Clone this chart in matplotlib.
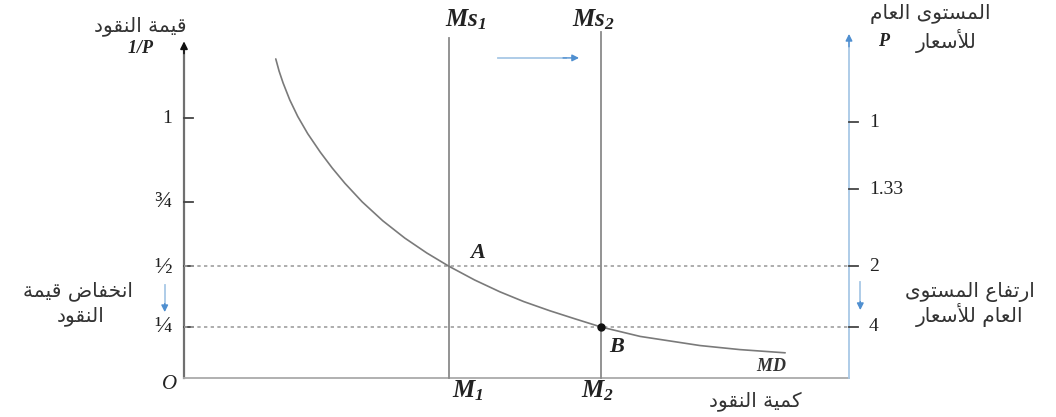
import matplotlib
matplotlib.use("Agg")
import matplotlib.pyplot as plt

# ---------------- data ----------------
left_tick_labels = ['1', '¾', '½', '¼']
left_tick_levels = [76.9, 52.1, 33.1, 15.1]
right_tick_labels = ['1', '1.33', '2', '4']
right_tick_levels = [75.7, 55.9, 33.1, 15.1]

md_x = [13.8, 14.3, 14.9, 15.9, 17.1, 18.6, 20.5, 22.3, 24.2, 26.8, 29.9, 33.2,
        36.5, 39.8, 43.7, 47.5, 51.1, 55.0, 58.8, 62.7, 68.6, 77.6, 83.6, 90.4]
md_y = [94.4, 90.8, 87.3, 82.3, 77.4, 72.3, 66.8, 62.1, 57.6, 52.1, 46.5, 41.4,
        37.0, 33.1, 29.0, 25.5, 22.6, 19.9, 17.5, 15.1, 12.3, 9.6, 8.4, 7.45]

m1 = 39.8
m2 = 62.7
level_a = 33.1
level_b = 15.1

txt_left_title = 'قيمة النقود'
txt_right_title1 = 'المستوى العام'
txt_right_title2 = 'للأسعار'
txt_left_note1 = 'انخفاض قيمة'
txt_left_note2 = 'النقود'
txt_right_note1 = 'ارتفاع المستوى'
txt_right_note2 = 'العام للأسعار'
txt_xlabel = 'كمية النقود'

# ---------------- minimal Arabic shaping ----------------
FORMS = {
    'ا': ('\uFE8D', '\uFE8E', None, None),
    'أ': ('\uFE83', '\uFE84', None, None),
    'ت': ('\uFE95', '\uFE96', '\uFE97', '\uFE98'),
    'ة': ('\uFE93', '\uFE94', None, None),
    'خ': ('\uFEA5', '\uFEA6', '\uFEA7', '\uFEA8'),
    'د': ('\uFEA9', '\uFEAA', None, None),
    'ر': ('\uFEAD', '\uFEAE', None, None),
    'س': ('\uFEB1', '\uFEB2', '\uFEB3', '\uFEB4'),
    'ض': ('\uFEBD', '\uFEBE', '\uFEBF', '\uFEC0'),
    'ع': ('\uFEC9', '\uFECA', '\uFECB', '\uFECC'),
    'ف': ('\uFED1', '\uFED2', '\uFED3', '\uFED4'),
    'ق': ('\uFED5', '\uFED6', '\uFED7', '\uFED8'),
    'ك': ('\uFED9', '\uFEDA', '\uFEDB', '\uFEDC'),
    'ل': ('\uFEDD', '\uFEDE', '\uFEDF', '\uFEE0'),
    'م': ('\uFEE1', '\uFEE2', '\uFEE3', '\uFEE4'),
    'ن': ('\uFEE5', '\uFEE6', '\uFEE7', '\uFEE8'),
    'و': ('\uFEED', '\uFEEE', None, None),
    'ى': ('\uFEEF', '\uFEF0', '\uFBE8', '\uFBE9'),
    'ي': ('\uFEF1', '\uFEF2', '\uFEF3', '\uFEF4'),
}
LAM_ALEF = {'ا': ('\uFEFB', '\uFEFC'), 'أ': ('\uFEF7', '\uFEF8')}


def shape(s):
    toks = []
    i = 0
    while i < len(s):
        c = s[i]
        if c == 'ل' and i + 1 < len(s) and s[i + 1] in LAM_ALEF:
            iso, fin = LAM_ALEF[s[i + 1]]
            toks.append((iso, fin, None, None))
            i += 2
        elif c in FORMS:
            toks.append(FORMS[c])
            i += 1
        else:
            toks.append(c)
            i += 1
    out = []
    for k, t in enumerate(toks):
        if isinstance(t, str):
            out.append(t)
            continue
        prev = toks[k - 1] if k > 0 else None
        nxt = toks[k + 1] if k + 1 < len(toks) else None
        jp = isinstance(prev, tuple) and prev[2] is not None
        jn = t[2] is not None and isinstance(nxt, tuple)
        if jp and jn:
            out.append(t[3])
        elif jp:
            out.append(t[1])
        elif jn:
            out.append(t[2])
        else:
            out.append(t[0])
    return ''.join(reversed(out))


# ---------------- style ----------------
plt.rcParams['mathtext.fontset'] = 'custom'
plt.rcParams['mathtext.it'] = 'Liberation Serif:italic:bold'
plt.rcParams['mathtext.rm'] = 'Liberation Serif:italic:bold'
plt.rcParams['mathtext.bf'] = 'Liberation Serif:bold'
plt.rcParams['mathtext.default'] = 'it'

AR = dict(family='DejaVu Sans', fontsize=14.5, color='#333333')
SERIF = dict(family='Liberation Serif', color='#222222')
GRAY = '#8a8a8a'
BLUE_LINE = '#a8c8e6'
BLUE_HEAD = '#4f8fd0'

fig = plt.figure(figsize=(10.56, 4.17), dpi=100)
ax = fig.add_axes([184 / 1056, 39 / 417, 665 / 1056, 338 / 417])
ax.set_xlim(0, 100)
ax.set_ylim(0, 100)
ax.axis('off')

# axes lines
ax.plot([0, 0], [0, 98], color='#707070', lw=1.6, clip_on=False)
ax.annotate('', xy=(0, 99.6), xytext=(0, 96), annotation_clip=False,
            arrowprops=dict(arrowstyle='-|>', color='#111111', lw=1.2,
                            mutation_scale=11, shrinkA=0, shrinkB=0))
ax.plot([0, 100], [0, 0], color='#aaaaaa', lw=1.3, clip_on=False)
ax.plot([100, 100], [0, 100], color=BLUE_LINE, lw=1.3, clip_on=False)
ax.annotate('', xy=(100, 101.8), xytext=(100, 98), annotation_clip=False,
            arrowprops=dict(arrowstyle='-|>', color=BLUE_HEAD, lw=1.0,
                            mutation_scale=10, shrinkA=0, shrinkB=0))

# ticks
for lab, lev in zip(left_tick_labels, left_tick_levels):
    ax.plot([0, 1.3], [lev, lev], color='#444444', lw=1.3, clip_on=False)
    fs = 14 if lab == '1' else 17
    ax.text(-1.8, lev, lab, ha='right', va='center', fontsize=fs, **SERIF)
for lab, lev in zip(right_tick_labels, right_tick_levels):
    ax.plot([100, 101.3], [lev, lev], color='#444444', lw=1.3, clip_on=False)
    ax.text(103.0, lev, lab, ha='left', va='center', fontsize=14, **SERIF)

# dotted guides
for lev in (level_a, level_b):
    ax.plot([0, 100], [lev, lev], color='#a0a0a0', lw=1.2,
            linestyle=(0, (2, 2)), clip_on=False)

# money supply lines
ax.plot([m1, m1], [0, 100.6], color=GRAY, lw=1.3, clip_on=False)
ax.plot([m2, m2], [0, 102.4], color=GRAY, lw=1.3, clip_on=False)

# money demand curve
ax.plot(md_x, md_y, color='#7a7a7a', lw=1.2, clip_on=False,
        solid_joinstyle='round', solid_capstyle='round')
ax.plot([m2], [level_b], 'o', color='#111111', ms=5, clip_on=False)

# shift arrow
ax.plot([47.2, 57.5], [94.7, 94.7], color=BLUE_LINE, lw=1.3, clip_on=False)
ax.annotate('', xy=(59.4, 94.7), xytext=(57.0, 94.7), annotation_clip=False,
            arrowprops=dict(arrowstyle='-|>', color=BLUE_HEAD, lw=1.0,
                            mutation_scale=10, shrinkA=0, shrinkB=0))

# down arrows
for xa, y0, y1 in ((-2.9, 27.5, 19.5), (101.7, 28.4, 20.1)):
    ax.plot([xa, xa], [y0, y1 + 2], color=BLUE_LINE, lw=1.3, clip_on=False)
    ax.annotate('', xy=(xa, y1), xytext=(xa, y1 + 2.5), annotation_clip=False,
                arrowprops=dict(arrowstyle='-|>', color=BLUE_HEAD, lw=1.0,
                                mutation_scale=10, shrinkA=0, shrinkB=0))

# italic labels
ax.text(39.3, 105.9, r'$Ms_{1}$', ha='left', va='center', fontsize=18, color='#222222')
ax.text(58.3, 105.9, r'$Ms_{2}$', ha='left', va='center', fontsize=18, color='#222222')
ax.text(44.2, 37.2, r'$A$', ha='center', va='center', fontsize=16, color='#222222')
ax.text(65.1, 9.6, r'$B$', ha='center', va='center', fontsize=16, color='#222222')
ax.text(88.4, 3.6, r'$MD$', ha='center', va='center', fontsize=13, color='#333333')
ax.text(42.6, -3.8, r'$M_{1}$', ha='center', va='center', fontsize=18, color='#222222')
ax.text(62.2, -3.8, r'$M_{2}$', ha='center', va='center', fontsize=18, color='#222222')
ax.text(-1.0, -2.0, 'O', ha='right', va='center', fontsize=15, style='italic', **SERIF)
ax.text(-6.6, 97.6, r'$1/P$', ha='center', va='center', fontsize=13, color='#222222')
ax.text(105.3, 99.6, r'$P$', ha='center', va='center', fontsize=13, color='#222222')

# Arabic labels
ax.text(-6.6, 104.0, shape(txt_left_title), ha='center', va='center', **AR)
ax.text(112.2, 107.6, shape(txt_right_title1), ha='center', va='center', **AR)
ax.text(114.6, 99.6, shape(txt_right_title2), ha='center', va='center', **AR)
ax.text(-15.9, 25.6, shape(txt_left_note1), ha='center', va='center', **AR)
ax.text(-15.6, 18.4, shape(txt_left_note2), ha='center', va='center', **AR)
ax.text(118.2, 25.3, shape(txt_right_note1), ha='center', va='center', **AR)
ax.text(118.2, 18.6, shape(txt_right_note2), ha='center', va='center', **AR)
ax.text(85.9, -6.8, shape(txt_xlabel), ha='center', va='center', **AR)

fig.savefig('out.png', dpi=100)
